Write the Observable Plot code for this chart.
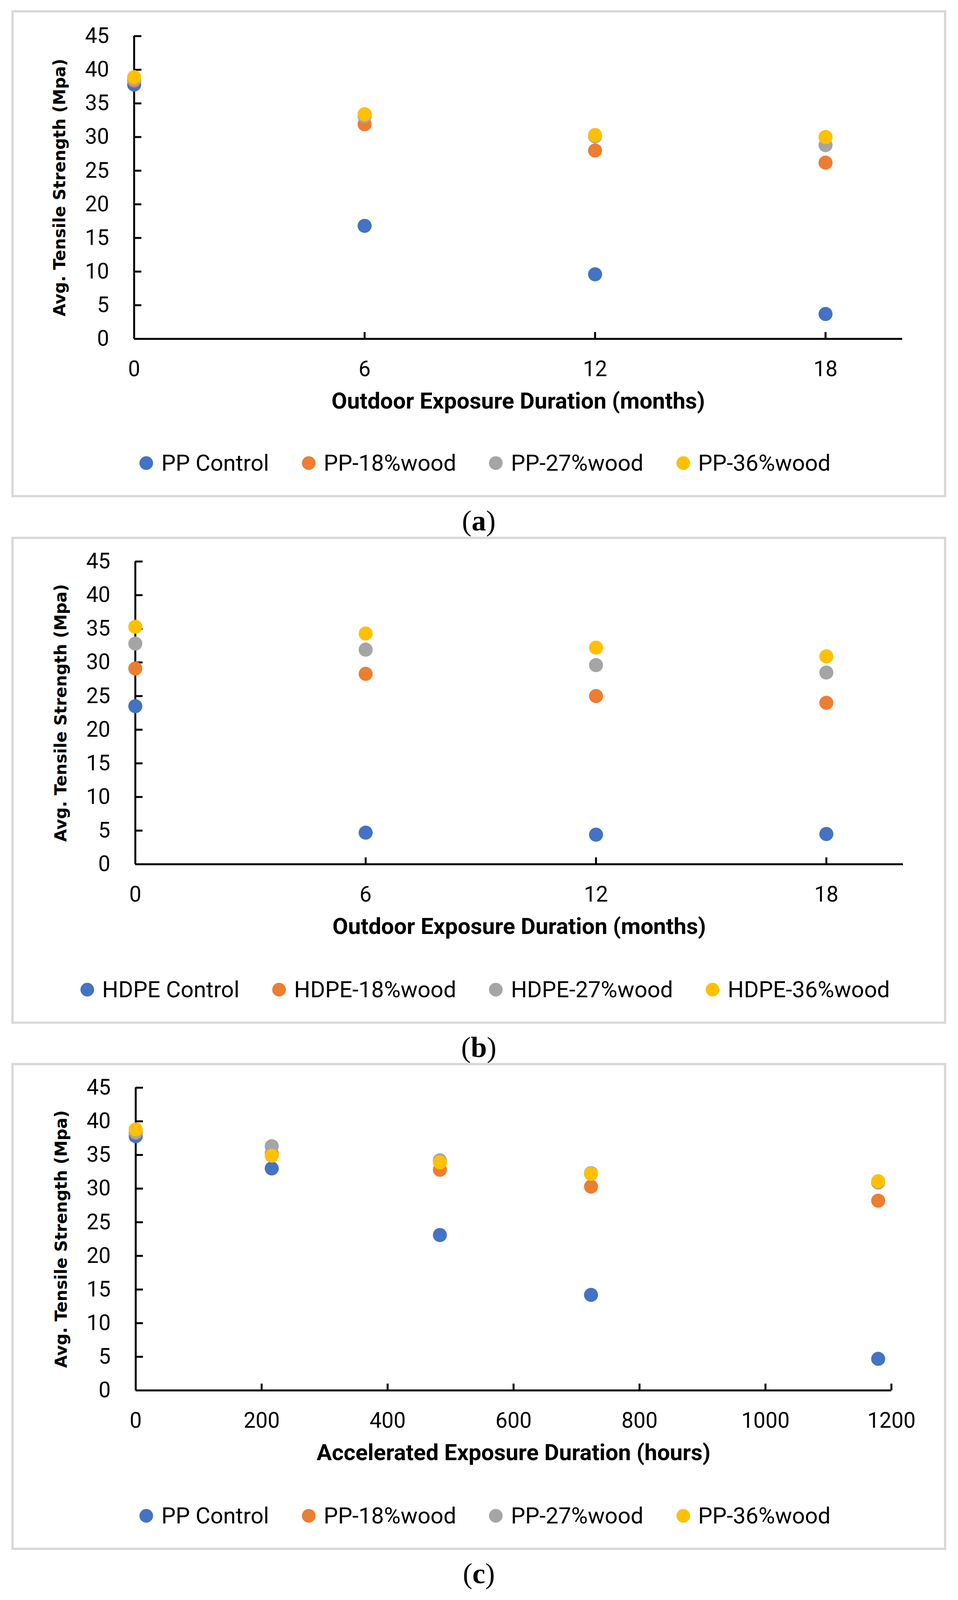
<!DOCTYPE html>
<html>
<head>
<meta charset="utf-8">
<script src="https://cdn.jsdelivr.net/npm/d3@7"></script>
<script src="https://cdn.jsdelivr.net/npm/@observablehq/plot@0.6"></script>
<style>
  body { margin: 0; background: #fff; }
  #page { position: relative; width: 2453px; height: 4090px; background: #fff; overflow: hidden; }
  .frame { position: absolute; border: 6px solid #d9d9d9; box-sizing: border-box; }
  .chart { position: absolute; left: 0; }
  .legend { position: absolute; display: flex; justify-content: center; align-items: center;
            font-family: Roboto, sans-serif; font-size: 58px; line-height: 1; color: #000; box-sizing: border-box; }
  .legend .item { display: flex; align-items: center; margin: 0 42px; white-space: nowrap; }
  .legend .swatch { width: 35px; height: 35px; border-radius: 50%; margin-right: 21px; }
  .caption { position: absolute; text-align: center; font-family: "Liberation Serif", "DejaVu Serif", serif;
             font-size: 74px; line-height: 1; color: #000; }
</style>
</head>
<body>
<div id="page"></div>
<script>
// shared ticks and colours
const yTicks = [0, 5, 10, 15, 20, 25, 30, 35, 40, 45];
const monthLabels = [0, 6, 12, 18];
const monthMarks = [6, 12, 18];
const hourTicks = [0, 200, 400, 600, 800, 1000, 1200];
const palette = ["#4472C4", "#ED7D31", "#A5A5A5", "#FFC000"];

// (a) outdoor exposure, PP composites
const ppNames = ["PP Control", "PP-18%wood", "PP-27%wood", "PP-36%wood"];
const outdoorMonths = [0, 6, 12, 18];
const ppControlOutdoor = [37.8, 16.8, 9.6, 3.7];
const pp18Outdoor = [38.4, 31.9, 28.0, 26.2];
const pp27Outdoor = [38.6, 33.1, 30.1, 28.8];
const pp36Outdoor = [38.9, 33.4, 30.3, 30.0];

// (b) outdoor exposure, HDPE composites
const hdpeNames = ["HDPE Control", "HDPE-18%wood", "HDPE-27%wood", "HDPE-36%wood"];
const hdpeControlOutdoor = [23.5, 4.7, 4.4, 4.5];
const hdpe18Outdoor = [29.1, 28.3, 25.0, 24.0];
const hdpe27Outdoor = [32.8, 31.9, 29.6, 28.5];
const hdpe36Outdoor = [35.3, 34.3, 32.2, 30.9];

// (c) accelerated exposure, PP composites
const acceleratedHours = [0, 216, 483, 723, 1179];
const ppControlAccel = [37.8, 33.0, 23.1, 14.2, 4.7];
const pp18Accel = [38.3, 35.2, 32.8, 30.3, 28.2];
const pp27Accel = [38.4, 36.3, 34.2, 32.3, 30.9];
const pp36Accel = [38.8, 34.9, 33.9, 32.2, 31.1];

// flatten series into rows, in drawing order (control first, 36% on top)
const toRows = (xs, names, seriesList) =>
  seriesList.flatMap((values, s) => values.map((v, i) => ({x: xs[i], y: v, series: names[s]})));

const page = document.getElementById("page");

// the photo only reaches ~4096px down, so the three panels are stacked a bit tighter than the original
const frameHeight = 1247;
const plotHeight = 775;

const panels = [
  {
    top: 26, marginLeft: 343, marginRight: 143, marginTop: 66,
    xDomain: [0, 20], xLabels: monthLabels, xMarks: monthMarks,
    xLabel: "Outdoor Exposure Duration (months)", names: ppNames,
    rows: toRows(outdoorMonths, ppNames, [ppControlOutdoor, pp18Outdoor, pp27Outdoor, pp36Outdoor]),
    caption: "a"
  },
  {
    top: 1374, marginLeft: 346, marginRight: 141, marginTop: 63,
    xDomain: [0, 20], xLabels: monthLabels, xMarks: monthMarks,
    xLabel: "Outdoor Exposure Duration (months)", names: hdpeNames,
    rows: toRows(outdoorMonths, hdpeNames, [hdpeControlOutdoor, hdpe18Outdoor, hdpe27Outdoor, hdpe36Outdoor]),
    caption: "b"
  },
  {
    top: 2721, marginLeft: 347, marginRight: 171, marginTop: 63,
    xDomain: [0, 1200], xLabels: hourTicks, xMarks: hourTicks.slice(1),
    xLabel: "Accelerated Exposure Duration (hours)", names: ppNames,
    rows: toRows(acceleratedHours, ppNames, [ppControlAccel, pp18Accel, pp27Accel, pp36Accel]),
    caption: "c"
  }
];

panels.forEach((p) => {
  const frame = document.createElement("div");
  frame.className = "frame";
  Object.assign(frame.style, {left: "29px", top: p.top + "px", width: "2394px", height: frameHeight + "px"});
  page.append(frame);

  const chart = Plot.plot({
    width: 2453,
    height: p.marginTop + plotHeight + 215,
    marginLeft: p.marginLeft,
    marginRight: p.marginRight,
    marginTop: p.marginTop,
    marginBottom: 215,
    style: {fontFamily: "Roboto, sans-serif", fontSize: "55px", color: "#000", background: "transparent", overflow: "visible"},
    x: {domain: p.xDomain},
    y: {domain: [0, 45]},
    color: {domain: p.names, range: palette},
    marks: [
      // tick labels
      Plot.axisY({ticks: yTicks, tickSize: 0, tickPadding: 64, fontSize: 55, label: null}),
      Plot.axisX({ticks: p.xLabels, tickSize: 0, tickPadding: 56, fontSize: 55, label: null, tickFormat: (d) => String(d)}),
      // inward tick marks (Excel style)
      Plot.axisY({ticks: yTicks, tickSize: -19, strokeWidth: 5, fill: "none"}),
      Plot.axisX({ticks: p.xMarks, tickSize: -17, strokeWidth: 5, fill: "none"}),
      // axis titles
      Plot.axisY({ticks: [], label: "Avg. Tensile Strength (Mpa)", labelAnchor: "center", labelOffset: 206,
                  labelArrow: "none", fontFamily: "DejaVu Sans, Verdana, sans-serif", fontWeight: "bold", fontSize: 42}),
      Plot.axisX({ticks: [], label: p.xLabel, labelAnchor: "center", labelOffset: 178,
                  labelArrow: "none", fontWeight: "bold", fontSize: 58}),
      Plot.ruleX([0], {strokeWidth: 5}),
      Plot.ruleY([0], {strokeWidth: 5}),
      Plot.dot(p.rows, {x: "x", y: "y", fill: "series", r: 18})
    ]
  });
  const holder = document.createElement("div");
  holder.className = "chart";
  holder.style.top = p.top + "px";
  holder.append(chart);
  page.append(holder);

  // legend below the axis title, inside the frame
  const legend = document.createElement("div");
  legend.className = "legend";
  Object.assign(legend.style, {left: "29px", width: "2394px", top: (p.top + 1159 - 32) + "px", height: "64px", paddingLeft: "32px"});
  p.names.forEach((name, i) => {
    const item = document.createElement("div");
    item.className = "item";
    const sw = document.createElement("span");
    sw.className = "swatch";
    sw.style.background = palette[i];
    const label = document.createElement("span");
    label.textContent = name;
    item.append(sw, label);
    legend.append(item);
  });
  page.append(legend);

  // panel caption (a), (b), (c)
  const cap = document.createElement("div");
  cap.className = "caption";
  Object.assign(cap.style, {left: "29px", width: "2394px", top: (p.top + frameHeight + 23) + "px"});
  cap.innerHTML = "(<b>" + p.caption + "</b>)";
  page.append(cap);
});
</script>
</body>
</html>
